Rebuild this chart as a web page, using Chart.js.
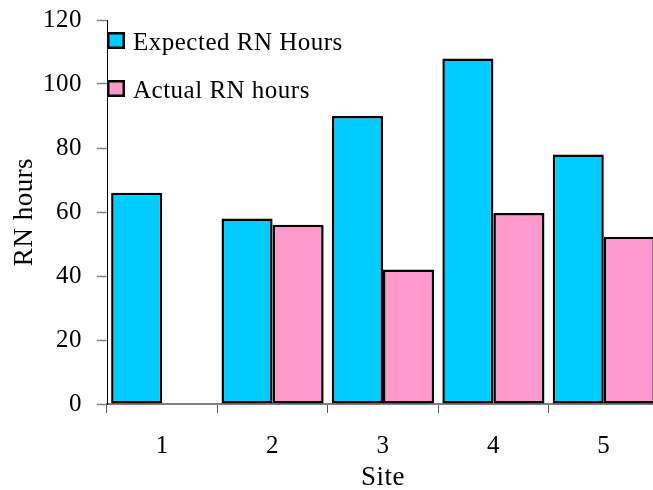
<!DOCTYPE html>
<html>
<head>
<meta charset="utf-8">
<script src="https://cdn.jsdelivr.net/npm/chart.js@4/dist/chart.umd.min.js"></script>
<style>
  html, body { margin: 0; padding: 0; background: #fff; overflow: hidden; }
  canvas { display: block; }
</style>
</head>
<body>
<canvas id="chart" width="660" height="490"></canvas>
<script>
// Sites and RN hours per site
const sites = ['1', '2', '3', '4', '5'];
const expectedHours = [66, 58, 90, 108, 78];
const actualHours = [null, 56, 42, 59.7, 52.3];
const seriesNames = ['Expected RN Hours', 'Actual RN hours'];
const seriesColors = ['#00CCFF', '#FF99CC'];
const yMin = 0, yMax = 120, yStep = 20;

const FONT = '"Liberation Serif", "Times New Roman", Times, serif';
const SPACING = '0.5px';

// slightly wider lettering for all canvas text
const spacing = {
  id: 'spacing',
  beforeUpdate(chart) { chart.ctx.letterSpacing = SPACING; },
  beforeDraw(chart) { chart.ctx.letterSpacing = SPACING; }
};

// legend stacked in the top-left corner of the plot area
const cornerLegend = {
  id: 'cornerLegend',
  afterDraw(chart) {
    const ctx = chart.ctx;
    const area = chart.chartArea;
    ctx.save();
    ctx.letterSpacing = SPACING;
    ctx.font = '25px ' + FONT;
    ctx.textAlign = 'left';
    ctx.textBaseline = 'alphabetic';
    chart.data.datasets.forEach((ds, i) => {
      const x = area.left;
      const y = area.top + 12 + i * 48;
      ctx.fillStyle = ds.backgroundColor;
      ctx.fillRect(x, y, 18, 17);
      ctx.lineWidth = 2.5;
      ctx.strokeStyle = '#000';
      ctx.strokeRect(x + 1.25, y + 1.25, 15.5, 14.5);
      ctx.fillStyle = '#000';
      ctx.fillText(ds.label, x + 26, y + 18);
    });
    ctx.restore();
  }
};

new Chart(document.getElementById('chart'), {
  type: 'bar',
  data: {
    labels: sites,
    datasets: [
      {
        label: seriesNames[0],
        data: expectedHours,
        backgroundColor: seriesColors[0],
        borderColor: '#000',
        borderWidth: 2.5,
        borderSkipped: false
      },
      {
        label: seriesNames[1],
        data: actualHours,
        backgroundColor: seriesColors[1],
        borderColor: '#000',
        borderWidth: 2.5,
        borderSkipped: false
      }
    ]
  },
  options: {
    responsive: false,
    animation: false,
    devicePixelRatio: 1,
    datasets: { bar: { categoryPercentage: 0.925, barPercentage: 1 } },
    layout: { padding: { top: 20, right: 1, left: 0, bottom: 0 } },
    plugins: {
      legend: { display: false },
      tooltip: { enabled: false }
    },
    scales: {
      x: {
        afterFit(scale) { scale.height = 86; },
        grid: {
          display: true,
          drawOnChartArea: false,
          drawTicks: true,
          tickLength: 9,
          tickColor: '#555',
          tickWidth: 1,
          offset: true
        },
        border: { display: true, color: '#808080', width: 2 },
        ticks: {
          color: '#000',
          padding: 18,
          font: { family: FONT, size: 25 }
        },
        title: {
          display: true,
          text: 'Site',
          color: '#000',
          padding: { top: 0, bottom: 0 },
          font: { family: FONT, size: 27, lineHeight: 0.9 }
        }
      },
      y: {
        min: yMin,
        max: yMax,
        afterFit(scale) {
          scale.width = 107;
          scale.paddingTop = 15;
          scale.paddingBottom = 15;
        },
        grid: {
          display: true,
          drawOnChartArea: false,
          drawTicks: true,
          tickLength: 10,
          tickColor: '#808080',
          tickWidth: 1.5
        },
        border: { display: true, color: '#000', width: 1 },
        ticks: {
          stepSize: yStep,
          color: '#000',
          padding: 15,
          font: { family: FONT, size: 25 }
        },
        title: {
          display: true,
          text: 'RN hours',
          color: '#000',
          padding: { top: 13, bottom: 0 },
          font: { family: FONT, size: 27, lineHeight: 0.9 }
        }
      }
    }
  },
  plugins: [spacing, cornerLegend]
});
</script>
</body>
</html>
